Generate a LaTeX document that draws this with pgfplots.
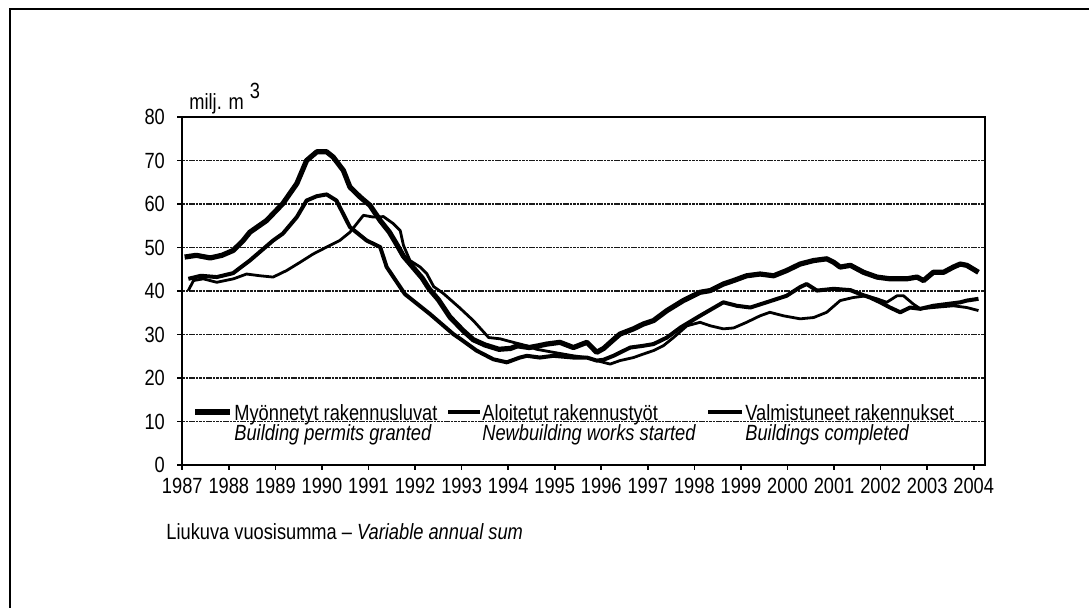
\documentclass[border=0pt]{standalone}
\usepackage{fontspec}
\setmainfont{Liberation Sans}[FakeStretch=0.83]
\usepackage{pgfplots}
\pgfplotsset{compat=1.18}
\pgfplotstableread{
x y
1987.05 47.8
1987.30 48.2
1987.60 47.6
1987.85 48.2
1988.09 49.3
1988.30 51.5
1988.45 53.5
1988.81 56.2
1989.16 60.1
1989.46 64.7
1989.67 70.0
1989.89 72.0
1990.10 72.0
1990.24 70.8
1990.46 67.7
1990.60 63.9
1990.82 61.6
1991.03 59.7
1991.25 56.2
1991.45 53.5
1991.60 50.8
1991.75 48.0
1991.95 45.5
1992.15 43.0
1992.30 40.5
1992.50 38.0
1992.75 34.0
1993.03 30.9
1993.25 28.8
1993.50 27.6
1993.80 26.6
1994.05 26.8
1994.20 27.4
1994.45 27.0
1994.65 27.4
1994.83 27.8
1995.11 28.2
1995.40 27.0
1995.69 28.2
1995.90 25.9
1996.05 26.8
1996.26 28.8
1996.40 30.1
1996.69 31.3
1996.90 32.4
1997.12 33.2
1997.41 35.5
1997.76 37.8
1998.12 39.7
1998.34 40.1
1998.62 41.6
1998.84 42.4
1999.12 43.5
1999.41 43.9
1999.70 43.5
1999.98 44.7
2000.27 46.2
2000.56 47.0
2000.84 47.4
2000.99 46.6
2001.13 45.5
2001.35 45.9
2001.63 44.3
2001.92 43.2
2002.20 42.8
2002.56 42.8
2002.78 43.2
2002.92 42.4
2003.13 44.3
2003.35 44.3
2003.56 45.5
2003.71 46.2
2003.85 45.9
2004.10 44.3
}\permits
\pgfplotstableread{
x y
1987.13 42.8
1987.40 43.5
1987.74 43.2
1988.09 44.1
1988.45 47.0
1988.95 51.6
1989.16 53.2
1989.46 57.0
1989.67 60.8
1989.89 61.8
1990.10 62.2
1990.31 60.8
1990.60 54.7
1990.96 51.6
1991.25 50.1
1991.39 45.5
1991.78 39.3
1992.32 34.7
1992.82 30.1
1992.97 29.0
1993.32 26.3
1993.68 24.3
1993.97 23.6
1994.25 24.7
1994.40 25.1
1994.68 24.7
1994.97 25.1
1995.40 24.7
1995.69 24.7
1995.90 24.0
1996.05 24.2
1996.26 25.1
1996.62 27.0
1996.90 27.4
1997.12 27.8
1997.41 29.3
1997.70 31.6
1998.12 34.3
1998.62 37.4
1998.91 36.6
1999.20 36.2
1999.55 37.4
1999.98 38.9
2000.27 40.9
2000.41 41.6
2000.63 40.1
2000.99 40.5
2001.35 40.2
2001.56 39.3
2001.77 38.5
2001.99 37.4
2002.20 36.2
2002.42 35.1
2002.63 36.2
2002.85 35.9
2003.13 36.6
2003.42 37.0
2003.71 37.4
2003.85 37.8
2004.10 38.2
}\started
\pgfplotstableread{
x y
1987.13 40.1
1987.24 42.4
1987.45 42.8
1987.74 42.0
1988.10 42.8
1988.38 43.9
1988.67 43.5
1988.95 43.2
1989.24 44.7
1989.53 46.6
1989.81 48.5
1990.10 50.1
1990.38 51.6
1990.60 53.5
1990.89 57.4
1991.10 57.0
1991.32 57.1
1991.53 55.5
1991.68 53.9
1991.75 50.5
1991.89 47.0
1992.11 45.5
1992.25 44.0
1992.40 41.0
1992.60 39.5
1992.95 36.2
1993.25 33.2
1993.58 29.3
1993.83 29.0
1994.00 28.5
1994.40 27.4
1994.61 26.6
1994.97 25.9
1995.40 25.1
1995.69 24.7
1995.97 23.8
1996.19 23.2
1996.40 24.0
1996.69 24.7
1996.90 25.5
1997.12 26.3
1997.33 27.4
1997.55 29.3
1997.84 32.0
1998.12 32.8
1998.34 32.0
1998.62 31.3
1998.84 31.5
1999.12 32.8
1999.41 34.3
1999.62 35.1
1999.91 34.3
2000.27 33.6
2000.56 33.9
2000.84 35.1
2001.13 37.8
2001.41 38.5
2001.70 38.9
2001.92 38.2
2002.13 37.4
2002.35 38.9
2002.49 38.9
2002.70 37.0
2002.85 35.9
2003.13 36.2
2003.56 36.6
2003.85 36.2
2004.10 35.5
}\completed
\begin{document}
\fontsize{11pt}{13pt}\selectfont
\begin{tikzpicture}
\useasboundingbox (0pt,0pt) rectangle (544.5pt,-304pt);
\draw[line width=1pt] (544.5pt,-4.5pt) -- (5pt,-4.5pt) -- (5pt,-304pt);
\begin{axis}[
  at={(91.15pt,-232.5pt)}, anchor=south west,
  scale only axis, width=401.35pt, height=174pt,
  xmin=1987, xmax=2004.24, ymin=0, ymax=80,
  xtick={1987,...,2004}, ytick={0,10,...,80},
  xtick pos=left, ytick pos=left,
  tick align=outside, major tick length=2.5pt,
  tick style={black, line width=0.8pt},
  axis line style={black, line width=0.9pt},
  /pgf/number format/assume math mode=true,
  /pgf/number format/1000 sep={},
  tick label style={font=\fontsize{11pt}{13pt}\selectfont, inner sep=0pt},
  xticklabel style={anchor=north, yshift=-4pt},
  yticklabel style={anchor=east, xshift=-6pt},
  ymajorgrids,
  major grid style={black!90, line width=0.65pt, dash pattern=on 1.3pt off 0.4pt},
  clip=false,
]
\addplot[black, line width=2.6pt, line join=round] table[x=x,y=y] {\permits};
\addplot[black, line width=2.0pt, line join=round] table[x=x,y=y] {\started};
\addplot[black, line width=1.4pt, line join=round] table[x=x,y=y] {\completed};
\end{axis}
\node[anchor=base west, inner sep=0pt] at (94.5pt,-55pt) {milj. m\hspace{3pt}\raisebox{5.5pt}{3}};
% legend
\draw[black, line width=2.6pt] (97.5pt,-206pt) -- (115pt,-206pt);
\draw[black, line width=2.2pt] (224pt,-206pt) -- (240pt,-206pt);
\draw[black, line width=2.0pt] (354pt,-206pt) -- (371pt,-206pt);
\node[anchor=base west, inner sep=0pt] at (117pt,-210.5pt) {Myönnetyt rakennusluvat};
\node[anchor=base west, inner sep=0pt] at (117pt,-220.5pt) {\itshape Building permits granted};
\node[anchor=base west, inner sep=0pt] at (241pt,-210.5pt) {Aloitetut rakennustyöt};
\node[anchor=base west, inner sep=0pt] at (241pt,-220.5pt) {\itshape Newbuilding works started};
\node[anchor=base west, inner sep=0pt] at (372.5pt,-210.5pt) {Valmistuneet rakennukset};
\node[anchor=base west, inner sep=0pt] at (372.5pt,-220.5pt) {\itshape Buildings completed};
\node[anchor=base west, inner sep=0pt] at (83pt,-270pt) {Liukuva vuosisumma -- \textit{Variable annual sum}};
\end{tikzpicture}
\end{document}
